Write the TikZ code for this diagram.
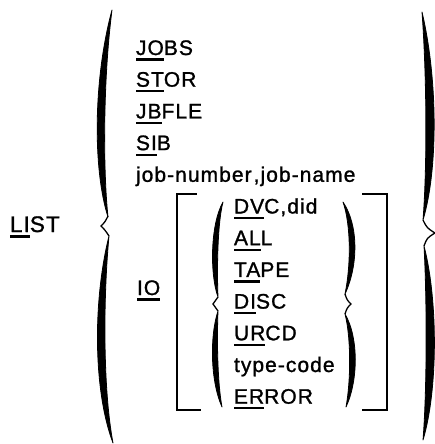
\documentclass[tikz,border=0pt]{standalone}
\usepackage{fontspec}
\newfontfamily\diafont[LetterSpace=5,FakeBold=1.2]{Liberation Sans}
\newcommand\ulpart[1]{\setbox0=\hbox{#1}\rlap{\rule[-5.6pt]{\wd0}{2.2pt}}\box0}
\tikzset{
  lbl/.style={anchor=base west, inner sep=0pt, outer sep=0pt, font=\diafont\fontsize{21}{21}\selectfont},
  biglbl/.style={lbl, font=\diafont\fontsize{22.5}{22.5}\selectfont},
  brk/.style={line width=1.8pt, line cap=rect},
  cusp/.style={line width=1.3pt},
  bfill/.style={fill=black, draw=black, line width=0.8pt, line join=round}
}
\begin{document}
\begin{tikzpicture}[x=1pt,y=-1pt]
\useasboundingbox (0,0) rectangle (435,444);
% labels
\node[biglbl] (list) at (10,232) {\ulpart{LI}ST};
\node[lbl] (jobs) at (136,55) {\ulpart{JO}BS};
\node[lbl] (stor) at (136,86.7) {\ulpart{ST}OR};
\node[lbl] (jbfle) at (136,118.4) {\ulpart{JB}FLE};
\node[lbl] (sib) at (136,150.1) {\ulpart{SI}B};
\node[lbl] (jobnum) at (136,181.8) {job-number\kern2pt,job-name};
\node[lbl] (io) at (137,295) {\ulpart{IO}};
\node[lbl] (dvc) at (234,213.5) {\ulpart{DV}C,did};
\node[lbl] (all) at (234,245.2) {\ulpart{AL}L};
\node[lbl] (tape) at (234,276.9) {\ulpart{TA}PE};
\node[lbl] (disc) at (234,308.6) {\ulpart{DI}SC};
\node[lbl] (urcd) at (234,340.3) {\ulpart{UR}CD};
\node[lbl] (type) at (234,372) {type-code};
\node[lbl] (error) at (234,403.7) {\ulpart{ER}ROR};
% outer left brace
\path[bfill] (112,10) .. controls (93,80) and (93,170) .. (108,217) .. controls (103,170) and (103,80) .. cycle;
\draw[cusp] (108,216) .. controls (105,222) .. (101,226) .. controls (105,230) .. (109,236);
\path[bfill] (109,236) .. controls (93,300) and (93,390) .. (113,443) .. controls (103,390) and (103,300) .. cycle;
% outer right brace
\path[bfill] (422,12) .. controls (438,80) and (438,170) .. (423,220) .. controls (427,170) and (427,80) .. cycle;
\draw[cusp] (423,220) .. controls (427,228) .. (435,233) .. controls (427,238) .. (424,246);
\path[bfill] (424,246) .. controls (438,300) and (438,390) .. (423,440) .. controls (427,390) and (427,300) .. cycle;
% inner left brace
\path[bfill] (223,202) .. controls (210,225) and (210,275) .. (218,297) .. controls (217,275) and (217,225) .. cycle;
\draw[cusp] (218,297) .. controls (216,301) .. (213,304) .. controls (216,307) .. (218,311);
\path[bfill] (218,311) .. controls (210,335) and (210,380) .. (222,407) .. controls (217,380) and (217,335) .. cycle;
% inner right brace
\path[bfill] (343,202) .. controls (358.5,225) and (358.5,265) .. (345,294) .. controls (351,265) and (351,225) .. cycle;
\draw[cusp] (345,294) .. controls (347,300) .. (351,304) .. controls (347,308) .. (345,314);
\path[bfill] (345,314) .. controls (358.5,337) and (358.5,380) .. (346,407) .. controls (351,380) and (351,337) .. cycle;
% brackets
\draw[brk] (196,194) -- (177,194) -- (177,410) -- (200,410);
\draw[brk] (363,194) -- (387,194) -- (387,410) -- (363,410);
\end{tikzpicture}
\end{document}
